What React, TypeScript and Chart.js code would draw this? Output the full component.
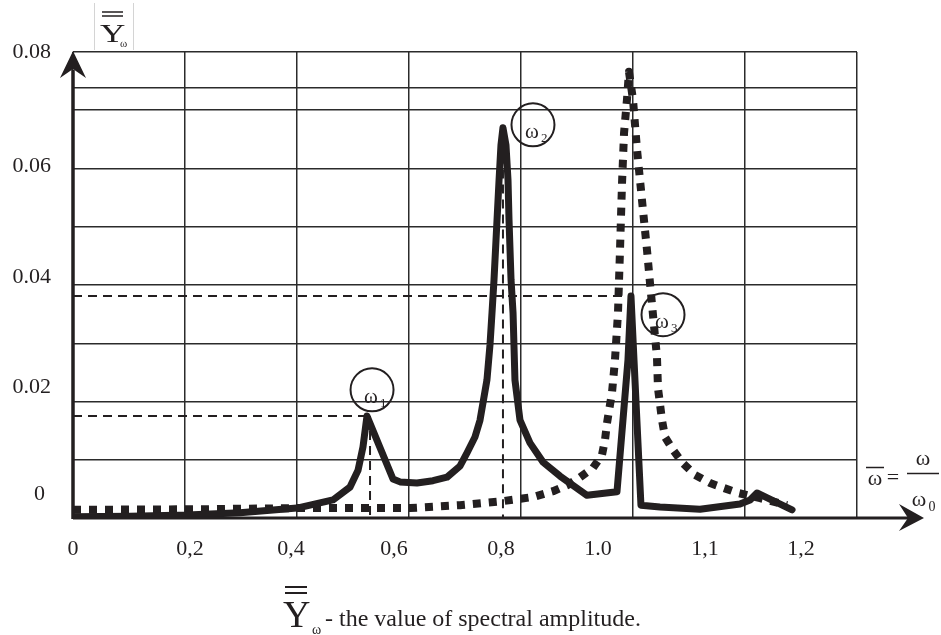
import React, { useEffect, useRef } from "react";
import { Chart, registerables } from "chart.js";

Chart.register(...registerables);

const FONT = '"Liberation Serif", "DejaVu Serif", serif';
const INK = "#231f20";

// x is measured in grid columns (0..7), y is the spectral amplitude
const solidX = [0, 0.509, 1.018, 1.491, 2.0, 2.321, 2.473, 2.545, 2.589, 2.625, 2.857, 2.92, 3.071, 3.214, 3.339, 3.455, 3.518, 3.589, 3.634, 3.696, 3.723, 3.741, 3.759, 3.786, 3.804, 3.821, 3.839, 3.866, 3.884, 3.893, 3.911, 3.929, 3.946, 3.991, 4.08, 4.196, 4.348, 4.589, 4.857, 4.955, 4.982, 5.009, 5.071, 5.241, 5.598, 5.955, 6.045, 6.107, 6.42];
const solidY = [0.0002, 0.0003, 0.0005, 0.0009, 0.0017, 0.0031, 0.0053, 0.0082, 0.0122, 0.0175, 0.0067, 0.0062, 0.006, 0.0064, 0.007, 0.0089, 0.0112, 0.0139, 0.0168, 0.0237, 0.0297, 0.0352, 0.0409, 0.0512, 0.058, 0.064, 0.067, 0.064, 0.058, 0.0512, 0.0409, 0.0352, 0.0237, 0.0168, 0.0129, 0.0096, 0.0072, 0.0039, 0.0045, 0.0271, 0.0381, 0.0271, 0.0022, 0.0019, 0.0015, 0.0024, 0.0031, 0.0043, 0.0014];

const dottedX = [0, 1.134, 2.0, 3.009, 3.455, 3.839, 4.107, 4.286, 4.42, 4.527, 4.643, 4.723, 4.75, 4.768, 4.79, 4.813, 4.839, 4.866, 4.884, 4.902, 4.92, 4.946, 4.964, 5.0, 5.036, 5.08, 5.125, 5.152, 5.214, 5.223, 5.259, 5.286, 5.357, 5.446, 5.554, 5.688, 5.804, 5.938, 6.134, 6.375];
const dottedY = [0.0014, 0.0015, 0.0017, 0.0017, 0.0022, 0.0029, 0.0036, 0.0046, 0.0057, 0.007, 0.0086, 0.0108, 0.0134, 0.0163, 0.0189, 0.0216, 0.0271, 0.0352, 0.046, 0.0575, 0.0661, 0.0718, 0.0766, 0.0718, 0.0632, 0.0546, 0.046, 0.0403, 0.0276, 0.0223, 0.0168, 0.0139, 0.0117, 0.0094, 0.0074, 0.006, 0.0052, 0.0043, 0.0034, 0.0022];

// dashed reference lines
const refH3X = [0, 4.929];
const refH3Y = [0.0381, 0.0381];
const refH1X = [0, 2.616];
const refH1Y = [0.0175, 0.0175];
const refV1X = [2.652, 2.652];
const refV1Y = [0.0175, 0];
const refV2X = [3.839, 3.839];
const refV2Y = [0.065, 0];

const xTickLabels = ["0", "0,2", "0,4", "0,6", "0,8", "1.0", "1,1", "1,2"];
const xTickAt = [0, 1.045, 1.946, 2.866, 3.821, 4.688, 5.643, 6.5];
const yTickLabels = ["0", "0.02", "0.04", "0.06", "0.08"];
const yTickAt = [0.0041, 0.0225, 0.0414, 0.0604, 0.08];
const yGridValues = [0, 0.01, 0.02, 0.03, 0.04, 0.05, 0.06, 0.07, 0.0738, 0.08];
const xGridValues = [0, 1, 2, 3, 4, 5, 6, 7];

const peakSubs = ["1", "2", "3"];
const peakCircleX = [2.67, 4.107, 5.268];
const peakCircleY = [0.022, 0.0675, 0.0349];

const pts = (xs: number[], ys: number[]) => xs.map((x, i) => ({ x, y: ys[i] }));

const dashed = (xs: number[], ys: number[]) => ({
  data: pts(xs, ys),
  borderColor: INK,
  borderWidth: 2,
  borderDash: [9, 6],
  pointRadius: 0,
  tension: 0,
  fill: false,
});

const decor = {
  id: "decor",
  afterDatasetsDraw(chart: any) {
    const { ctx, chartArea: ca, scales } = chart;
    const sx = scales.x;
    const sy = scales.y;
    ctx.save();
    ctx.strokeStyle = INK;
    ctx.fillStyle = INK;

    // y axis with arrow
    ctx.lineWidth = 3.5;
    ctx.beginPath();
    ctx.moveTo(ca.left, ca.bottom + 1);
    ctx.lineTo(ca.left, ca.top + 18);
    ctx.stroke();
    ctx.beginPath();
    ctx.moveTo(ca.left, ca.top - 1);
    ctx.lineTo(ca.left - 13, ca.top + 26);
    ctx.lineTo(ca.left, ca.top + 17);
    ctx.lineTo(ca.left + 13, ca.top + 26);
    ctx.closePath();
    ctx.fill();

    // x axis with arrow
    ctx.lineWidth = 3;
    ctx.beginPath();
    ctx.moveTo(ca.left, ca.bottom);
    ctx.lineTo(ca.right + 55, ca.bottom);
    ctx.stroke();
    ctx.beginPath();
    ctx.moveTo(ca.right + 67, ca.bottom);
    ctx.lineTo(ca.right + 42, ca.bottom - 14);
    ctx.lineTo(ca.right + 51, ca.bottom);
    ctx.lineTo(ca.right + 42, ca.bottom + 13);
    ctx.closePath();
    ctx.fill();

    // tick labels
    ctx.font = `22px ${FONT}`;
    ctx.textBaseline = "middle";
    ctx.textAlign = "center";
    xTickLabels.forEach((t, i) => {
      ctx.fillText(t, sx.getPixelForValue(xTickAt[i]), ca.bottom + 31);
    });
    ctx.textAlign = "right";
    yTickLabels.forEach((t, i) => {
      const px = i === 0 ? ca.left - 28 : ca.left - 22;
      ctx.fillText(t, px, sy.getPixelForValue(yTickAt[i]));
    });

    // peak circles
    ctx.lineWidth = 2;
    ctx.textBaseline = "alphabetic";
    ctx.textAlign = "left";
    peakSubs.forEach((s, i) => {
      const cx = sx.getPixelForValue(peakCircleX[i]);
      const cy = sy.getPixelForValue(peakCircleY[i]);
      ctx.beginPath();
      ctx.arc(cx, cy, 21.5, 0, Math.PI * 2);
      ctx.stroke();
      ctx.font = `21px ${FONT}`;
      ctx.fillText("ω", cx - 8, cy + 13);
      ctx.font = `13px ${FONT}`;
      ctx.fillText(s, cx + 8, cy + 17);
    });

    // top-left axis title box
    ctx.strokeStyle = "#d4d4d4";
    ctx.lineWidth = 1;
    ctx.beginPath();
    ctx.moveTo(94.5, 3);
    ctx.lineTo(94.5, 50);
    ctx.moveTo(133.5, 3);
    ctx.lineTo(133.5, 50);
    ctx.stroke();
    ctx.strokeStyle = INK;
    ctx.save();
    ctx.translate(100, 42);
    ctx.scale(1.35, 1);
    ctx.font = `26px ${FONT}`;
    ctx.fillText("Y", 0, 0);
    ctx.restore();
    ctx.lineWidth = 1.6;
    ctx.beginPath();
    ctx.moveTo(102, 12);
    ctx.lineTo(123, 12);
    ctx.moveTo(102, 16);
    ctx.lineTo(123, 16);
    ctx.stroke();
    ctx.font = `11px ${FONT}`;
    ctx.fillText("ω", 120, 47);

    // right axis label  ω̄ = ω / ω0
    ctx.font = `22px ${FONT}`;
    ctx.textAlign = "center";
    ctx.fillText("ω", 875, 485);
    ctx.lineWidth = 1.5;
    ctx.beginPath();
    ctx.moveTo(866, 467.5);
    ctx.lineTo(884, 467.5);
    ctx.stroke();
    ctx.fillText("=", 893, 484);
    ctx.fillText("ω", 923, 465);
    ctx.beginPath();
    ctx.moveTo(907, 473.5);
    ctx.lineTo(939, 473.5);
    ctx.stroke();
    ctx.fillText("ω", 919, 506);
    ctx.font = `14px ${FONT}`;
    ctx.fillText("0", 932, 511);

    // caption
    ctx.textAlign = "left";
    ctx.font = `38px ${FONT}`;
    ctx.fillText("Y", 283, 627);
    ctx.lineWidth = 1.8;
    ctx.beginPath();
    ctx.moveTo(285, 587);
    ctx.lineTo(307, 587);
    ctx.moveTo(285, 593);
    ctx.lineTo(307, 593);
    ctx.stroke();
    ctx.font = `14px ${FONT}`;
    ctx.fillText("ω", 312, 634);
    ctx.font = `24px ${FONT}`;
    ctx.fillText("- the value of spectral amplitude.", 325, 626);

    ctx.restore();
  },
};

export default function App() {
  const ref = useRef<HTMLCanvasElement | null>(null);

  useEffect(() => {
    if (!ref.current) return;
    const chart = new Chart(ref.current, {
      type: "line",
      data: {
        datasets: [
          {
            data: pts(solidX, solidY),
            borderColor: INK,
            borderWidth: 7,
            borderJoinStyle: "round",
            borderCapStyle: "round",
            pointRadius: 0,
            tension: 0,
            fill: false,
          } as any,
          {
            data: pts(dottedX, dottedY),
            borderColor: INK,
            borderWidth: 8,
            borderDash: [8, 8],
            borderCapStyle: "butt",
            borderJoinStyle: "round",
            pointRadius: 0,
            tension: 0,
            fill: false,
          } as any,
          dashed(refH3X, refH3Y),
          dashed(refH1X, refH1Y),
          dashed(refV1X, refV1Y),
          dashed(refV2X, refV2Y),
        ],
      },
      options: {
        responsive: false,
        animation: false,
        events: [],
        layout: { padding: { left: 73, top: 52, right: 84, bottom: 117 } },
        plugins: { legend: { display: false }, tooltip: { enabled: false } },
        scales: {
          x: {
            type: "linear",
            min: 0,
            max: 7,
            afterBuildTicks: (s: any) => {
              s.ticks = xGridValues.map((v) => ({ value: v }));
            },
            ticks: { display: false },
            grid: { color: "#2b2b2b", lineWidth: 1.5, drawTicks: false },
            border: { display: false },
          },
          y: {
            type: "linear",
            min: 0,
            max: 0.08,
            afterBuildTicks: (s: any) => {
              s.ticks = yGridValues.map((v) => ({ value: v }));
            },
            ticks: { display: false },
            grid: { color: "#2b2b2b", lineWidth: 1.5, drawTicks: false },
            border: { display: false },
          },
        },
      },
      plugins: [decor],
    });
    return () => chart.destroy();
  }, []);

  return (
    <div style={{ position: "fixed", left: 0, top: 0, width: 941, height: 635, background: "#fff" }}>
      <canvas ref={ref} width={941} height={635} style={{ display: "block" }} />
    </div>
  );
}
